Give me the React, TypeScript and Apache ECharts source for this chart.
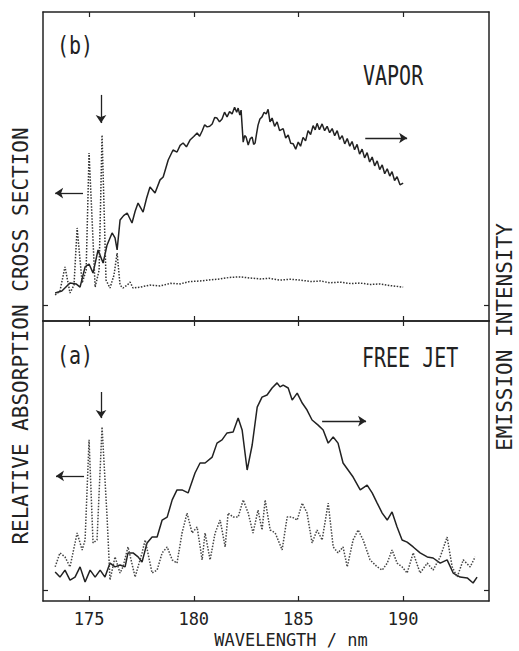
import React, { useEffect, useRef } from "react";
import * as echarts from "echarts";

// wavelength ticks (nm)
const wlTicks = [175, 180, 185, 190];

// (b) VAPOR — emission (solid)
const vaporEmWl = [173.38,173.7,174.09,174.38,174.57,174.81,175.0,175.19,175.43,175.67,175.86,176.1,176.24,176.34,176.48,176.65,176.82,177.05,177.2,177.34,177.58,177.75,177.91,178.15,178.39,178.54,178.78,179.01,179.2,179.35,179.49,179.65,179.82,180.0,180.16,180.28,180.4,180.52,180.64,180.76,180.88,181.0,181.11,181.23,181.35,181.47,181.59,181.71,181.83,181.95,182.05,182.12,182.2,182.26,182.36,182.43,182.5,182.6,182.7,182.79,182.86,182.93,183.0,183.07,183.16,183.26,183.36,183.46,183.55,183.64,183.74,183.86,183.98,184.1,184.27,184.39,184.51,184.63,184.75,184.87,184.99,185.1,185.22,185.34,185.46,185.58,185.7,185.8,185.89,186.0,186.13,186.25,186.37,186.49,186.61,186.73,186.85,186.97,187.09,187.21,187.33,187.45,187.56,187.68,187.8,187.92,188.04,188.16,188.28,188.4,188.52,188.64,188.76,188.88,189.0,189.12,189.24,189.36,189.47,189.59,189.71,189.85,190.0];
const vaporEm = [4.1,4.8,7.5,7.2,6.1,13.0,14.0,10.9,18.8,14.3,20.5,24.6,22.9,18.8,29.0,30.5,31.4,28.0,32.0,34.8,31.7,36.5,40.3,38.2,42.7,43.7,49.5,52.9,52.2,54.5,55.3,54.0,56.3,57.5,58.7,57.6,59.4,61.5,60.8,61.0,61.8,64.0,63.8,62.5,63.5,65.8,64.2,66.0,65.2,67.5,65.8,67.2,64.8,66.5,55.6,57.8,57.3,54.6,56.8,57.3,54.8,55.3,58.5,61.4,63.5,64.2,65.8,65.2,66.8,62.5,63.8,61.0,62.5,59.5,60.2,57.0,58.0,55.2,55.0,53.2,55.6,54.2,57.2,56.0,59.5,58.2,61.2,59.8,62.0,59.8,61.8,59.5,61.0,58.8,60.2,57.8,59.5,56.5,57.8,55.0,56.8,54.2,55.8,53.0,54.8,51.5,53.2,50.2,52.0,48.8,50.5,47.5,49.2,46.2,47.8,44.8,46.5,44.0,45.5,42.5,43.8,41.0,41.6];

// (b) VAPOR — absorption (dotted)
const vaporAbsWl = [173.38,173.61,173.85,174.09,174.28,174.43,174.67,174.86,175.0,175.29,175.48,175.62,175.81,176.0,176.19,176.34,176.48,176.62,176.82,176.96,177.1,177.44,177.9,178.39,178.9,179.35,179.8,180.3,180.8,181.26,181.7,182.21,182.7,183.17,183.6,184.12,184.6,185.08,185.6,186.04,186.5,186.99,187.5,187.95,188.4,188.9,189.4,190.0];
const vaporAbs = [3.4,4.8,13.0,4.1,6.8,26.3,7.5,11.9,51.9,6.1,11.9,58.0,8.5,5.8,10.2,17.7,6.8,5.8,6.8,7.8,5.8,6.1,6.8,6.5,7.4,7.2,8.0,8.2,8.6,8.9,9.4,9.6,9.2,8.9,9.1,8.5,8.8,8.5,8.0,8.2,7.6,7.8,7.3,7.5,7.0,7.2,6.6,6.1];

// (a) FREE JET — emission (solid)
const jetEmWl = [173.38,173.61,173.85,174.09,174.33,174.57,174.81,175.05,175.29,175.53,175.76,176.0,176.24,176.48,176.72,176.86,177.1,177.34,177.53,177.77,178.01,178.25,178.49,178.73,178.97,179.2,179.44,179.73,180.06,180.3,180.54,180.88,181.11,181.35,181.59,181.88,182.12,182.31,182.55,182.79,183.03,183.26,183.5,183.74,183.98,184.12,184.27,184.51,184.7,184.94,185.18,185.41,185.65,185.94,186.18,186.42,186.66,186.89,187.13,187.37,187.61,187.95,188.28,188.52,188.76,189.0,189.24,189.47,189.71,189.95,190.19,190.48,190.81,191.15,191.43,191.77,192.1,192.39,192.72,193.06,193.34,193.53];
const jetEm = [6.7,4.8,7.4,3.7,4.8,8.6,3.0,7.4,4.8,7.4,4.8,10.0,8.6,9.3,8.6,13.8,13.8,12.3,10.4,17.5,19.7,19.7,26.0,27.1,33.5,37.2,37.2,36.1,43.5,47.2,47.2,49.4,54.6,55.8,58.4,58.7,63.9,59.5,44.6,53.9,68.0,71.7,72.5,75.1,77.0,75.5,76.2,75.1,70.6,73.2,69.5,66.9,63.2,61.3,59.5,54.6,56.9,54.6,47.2,44.6,42.0,37.2,39.0,36.1,32.3,28.6,26.0,29.0,23.4,18.6,17.8,16.0,13.8,12.3,11.9,10.0,11.2,6.3,4.8,4.5,2.6,4.8];

// (a) FREE JET — absorption (dotted)
const jetAbsWl = [173.38,173.61,173.85,174.09,174.43,174.67,174.81,175.0,175.19,175.38,175.62,175.86,176.0,176.24,176.48,176.62,176.86,177.2,177.53,177.68,178.01,178.25,178.49,178.73,178.97,179.2,179.44,179.68,179.92,180.16,180.4,180.54,180.78,181.02,181.26,181.5,181.64,181.88,182.12,182.36,182.6,182.83,183.07,183.26,183.41,183.65,183.89,184.22,184.46,184.7,184.94,185.18,185.41,185.65,185.89,186.13,186.42,186.66,186.89,187.13,187.33,187.61,187.85,188.09,188.42,188.76,189.0,189.24,189.47,189.71,189.95,190.19,190.48,190.81,191.15,191.43,191.77,192.1,192.34,192.58,192.87,193.2,193.44];
const jetAbs = [8.6,13.8,12.3,8.6,21.2,14.9,18.6,55.8,17.5,18.6,60.6,27.1,3.7,12.3,6.3,8.6,16.0,4.8,13.8,18.6,6.3,7.4,13.8,16.0,11.2,10.0,21.2,28.6,21.2,23.4,11.2,21.2,11.2,21.2,26.0,16.0,28.6,27.1,27.1,33.5,28.6,21.2,29.7,22.3,33.5,22.3,21.2,14.9,27.1,27.1,26.0,32.3,28.6,17.5,22.3,18.6,32.3,16.0,13.8,16.0,8.6,18.6,22.3,18.6,11.2,8.6,7.4,10.0,14.9,10.0,8.6,6.3,13.8,6.3,10.0,7.4,12.3,19.7,8.6,4.8,11.2,8.6,12.3];

const pairs = (xs: number[], ys: number[]) => xs.map((x, i) => [x, ys[i]]);

const INK = "#222";
const MONO = "DejaVu Sans Mono";

export default function App() {
  const ref = useRef<HTMLDivElement>(null);
  useEffect(() => {
    const chart = echarts.init(ref.current!, null, { renderer: "svg" });
    const xBase: any = {
      type: "value",
      min: 172.8,
      max: 194.1,
      axisLine: { show: true, onZero: false, lineStyle: { color: INK, width: 1.5 } },
      axisTick: { show: true, inside: true, length: 5, customValues: wlTicks, lineStyle: { color: INK, width: 1.2 } },
      axisLabel: { show: false },
      splitLine: { show: false },
    };
    const yBase = (grid: number, pos: string, min: number): any => ({
      type: "value",
      gridIndex: grid,
      position: pos,
      min,
      max: 100,
      axisLine: { show: true, onZero: false, lineStyle: { color: INK, width: 1.5 } },
      axisTick: { show: true, inside: true, length: 5, customValues: [0], lineStyle: { color: INK, width: 1.2 } },
      axisLabel: { show: false },
      splitLine: { show: false },
    });
    const arrowLine = (data: any[]) => ({
      silent: true,
      symbol: ["none", "arrow"],
      symbolSize: 8,
      label: { show: false },
      lineStyle: { type: "solid", color: INK, width: 1.3 },
      data,
    });
    const seg = (x1: number, y1: number, x2: number, y2: number) => [{ coord: [x1, y1] }, { coord: [x2, y2] }];

    chart.setOption({
      animation: false,
      backgroundColor: "#fff",
      grid: [
        { left: 43, top: 12, width: 446, height: 309 },
        { left: 43, top: 321, width: 446, height: 280 },
      ],
      xAxis: [
        { ...xBase, gridIndex: 0, position: "top" },
        { ...xBase, gridIndex: 0, position: "bottom" },
        { ...xBase, gridIndex: 1, position: "top" },
        {
          ...xBase,
          gridIndex: 1,
          position: "bottom",
          axisLabel: { show: true, customValues: wlTicks, fontFamily: MONO, fontSize: 17, color: INK, margin: 9 },
        },
      ],
      yAxis: [
        yBase(0, "left", -5.46),
        yBase(0, "right", -5.46),
        yBase(1, "left", -4.09),
        yBase(1, "right", -4.09),
      ],
      series: [
        {
          type: "line",
          xAxisIndex: 1,
          yAxisIndex: 0,
          data: pairs(vaporEmWl, vaporEm),
          showSymbol: false,
          lineStyle: { color: INK, width: 1.5 },
          markLine: arrowLine([seg(174.71, 38.2, 173.38, 38.2), seg(175.57, 71.7, 175.57, 62.1), seg(188.19, 57.0, 190.19, 57.0)]),
        },
        {
          type: "line",
          xAxisIndex: 1,
          yAxisIndex: 0,
          data: pairs(vaporAbsWl, vaporAbs),
          showSymbol: false,
          lineStyle: { color: "#333", width: 1.5, type: [1.5, 1.5] },
        },
        {
          type: "line",
          xAxisIndex: 3,
          yAxisIndex: 2,
          data: pairs(jetEmWl, jetEm),
          showSymbol: false,
          lineStyle: { color: INK, width: 1.5 },
          markLine: arrowLine([seg(174.76, 42.4, 173.42, 42.4), seg(175.57, 73.6, 175.57, 63.9), seg(186.13, 62.8, 188.23, 62.8)]),
        },
        {
          type: "line",
          xAxisIndex: 3,
          yAxisIndex: 2,
          data: pairs(jetAbsWl, jetAbs),
          showSymbol: false,
          lineStyle: { color: "#444", width: 1.5, type: [1.5, 1.5] },
        },
      ],
      graphic: [
        { type: "text", x: 57, y: 45, scaleY: 1.2, style: { text: "(b)", fontFamily: MONO, fontSize: 20, fill: INK, align: "left", verticalAlign: "middle" } },
        { type: "text", x: 363, y: 75, scaleY: 1.3, style: { text: "VAPOR", fontFamily: MONO, fontSize: 20, fill: INK, align: "left", verticalAlign: "middle" } },
        { type: "text", x: 57, y: 355, scaleY: 1.2, style: { text: "(a)", fontFamily: MONO, fontSize: 20, fill: INK, align: "left", verticalAlign: "middle" } },
        { type: "text", x: 362, y: 357, scaleY: 1.3, style: { text: "FREE JET", fontFamily: MONO, fontSize: 20, fill: INK, align: "left", verticalAlign: "middle" } },
        { type: "text", x: 291, y: 640, style: { text: "WAVELENGTH / nm", fontFamily: MONO, fontSize: 17, fill: INK, align: "center", verticalAlign: "middle" } },
        { type: "text", x: 21, y: 336, rotation: Math.PI / 2, style: { text: "RELATIVE ABSORPTION CROSS SECTION", fontFamily: MONO, fontSize: 21, fill: INK, align: "center", verticalAlign: "middle" } },
        { type: "text", x: 505, y: 337, rotation: Math.PI / 2, style: { text: "EMISSION INTENSITY", fontFamily: MONO, fontSize: 21, fill: INK, align: "center", verticalAlign: "middle" } },
      ],
    });
    return () => chart.dispose();
  }, []);
  return <div ref={ref} style={{ position: "fixed", left: 0, top: 0, width: 519, height: 651 }} />;
}
